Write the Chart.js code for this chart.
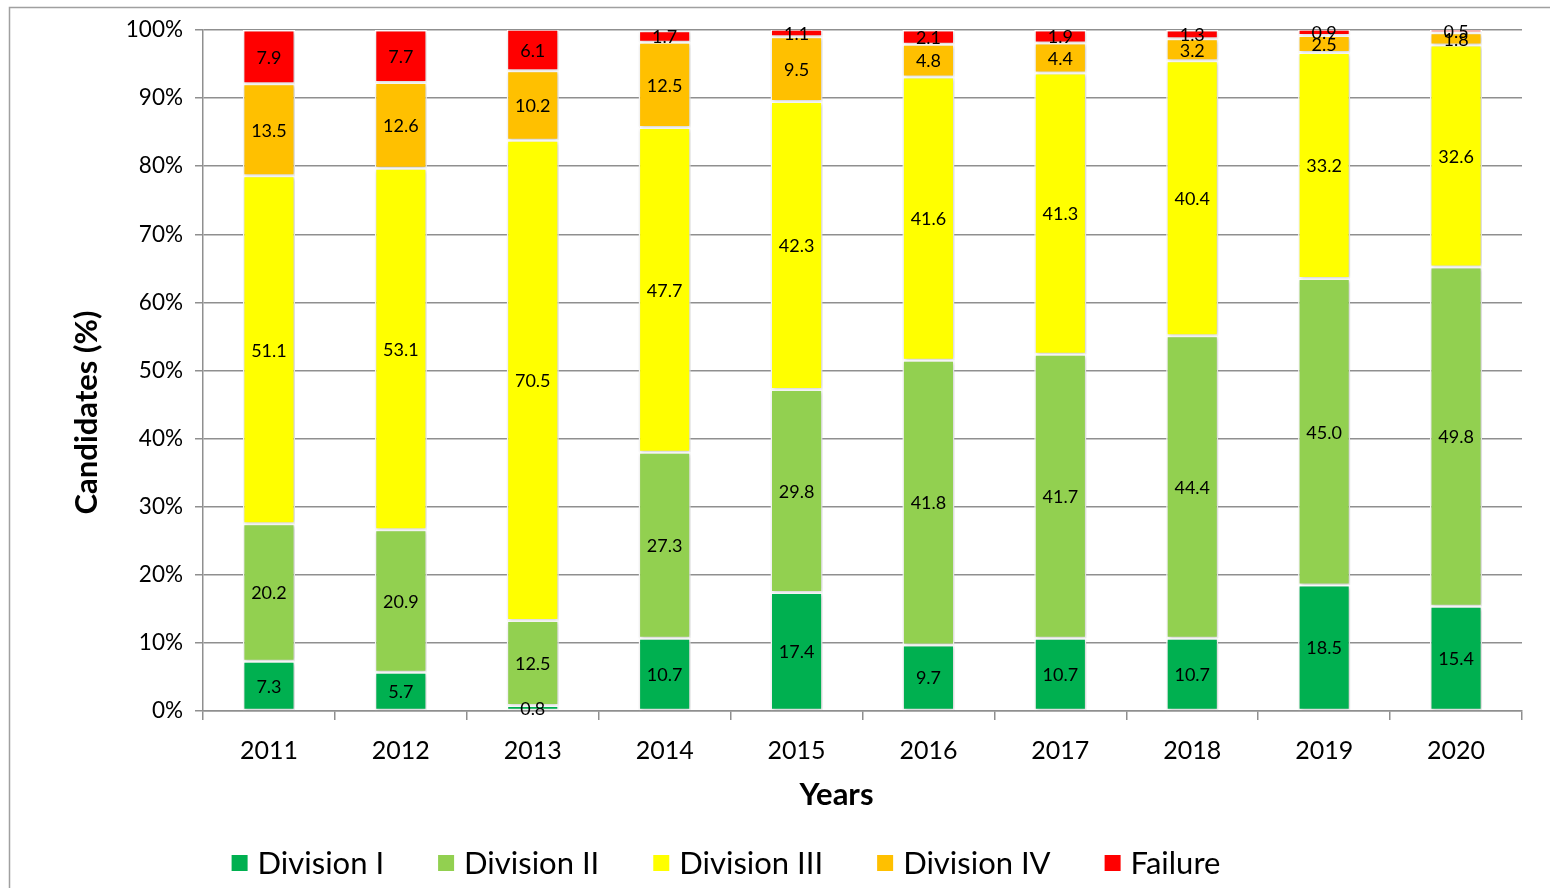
<!DOCTYPE html>
<html>
<head>
<meta charset="utf-8">
<script src="https://cdn.jsdelivr.net/npm/chart.js@4/dist/chart.umd.min.js"></script>
<style>
  body { margin: 0; background: #fff; }
  #wrap { width: 1550px; height: 888px; position: relative; }
</style>
</head>
<body>
<div id="wrap"><canvas id="resultsChart"></canvas></div>
<script>
// Exam results by year (percent of candidates)
const years = ['2011', '2012', '2013', '2014', '2015', '2016', '2017', '2018', '2019', '2020'];
const divisionI   = [7.3, 5.7, 0.8, 10.7, 17.4, 9.7, 10.7, 10.7, 18.5, 15.4];
const divisionII  = [20.2, 20.9, 12.5, 27.3, 29.8, 41.8, 41.7, 44.4, 45.0, 49.8];
const divisionIII = [51.1, 53.1, 70.5, 47.7, 42.3, 41.6, 41.3, 40.4, 33.2, 32.6];
const divisionIV  = [13.5, 12.6, 10.2, 12.5, 9.5, 4.8, 4.4, 3.2, 2.5, 1.8];
const failure     = [7.9, 7.7, 6.1, 1.7, 1.1, 2.1, 1.9, 1.3, 0.9, 0.5];
const yTicks = [0, 10, 20, 30, 40, 50, 60, 70, 80, 90, 100];

const FONT = 'Lato, "Open Sans", sans-serif';
const GRID = '#8f8f8f';

// outer frame of the chart object
const framePlugin = {
  id: 'frame',
  beforeDraw(chart) {
    const ctx = chart.ctx;
    ctx.save();
    ctx.strokeStyle = '#a0a0a0';
    ctx.lineWidth = 1.5;
    ctx.beginPath();
    ctx.moveTo(9.5, chart.height);
    ctx.lineTo(9.5, 7.5);
    ctx.lineTo(chart.width, 7.5);
    ctx.stroke();
    ctx.restore();
  }
};

// soft shadow under the bars
const shadowPlugin = {
  id: 'barShadow',
  beforeDatasetsDraw(chart) {
    const ctx = chart.ctx;
    ctx.save();
    ctx.shadowColor = 'rgba(0,0,0,0.22)';
    ctx.shadowBlur = 4;
    ctx.shadowOffsetX = 1;
    ctx.shadowOffsetY = 1;
  },
  afterDatasetsDraw(chart) {
    chart.ctx.restore();
  }
};

// value labels in the middle of each segment
const valueLabels = {
  id: 'valueLabels',
  afterDatasetsDraw(chart) {
    const ctx = chart.ctx;
    ctx.save();
    ctx.font = '18px ' + FONT;
    ctx.fillStyle = '#000';
    ctx.textAlign = 'center';
    ctx.textBaseline = 'middle';
    chart.data.datasets.forEach((ds, i) => {
      chart.getDatasetMeta(i).data.forEach((bar, j) => {
        const v = ds.data[j];
        ctx.fillText(v.toFixed(1), bar.x, (bar.y + bar.base) / 2 + 1);
      });
    });
    ctx.restore();
  }
};

// axis titles, placed a bit off-centre like the original
const axisTitles = {
  id: 'axisTitles',
  afterDraw(chart) {
    const ctx = chart.ctx;
    const area = chart.chartArea;
    ctx.save();
    ctx.font = 'bold 31px ' + FONT;
    ctx.fillStyle = '#000';
    ctx.textAlign = 'center';
    ctx.textBaseline = 'middle';
    ctx.fillText('Years', (area.left + area.right) / 2 - 26, 795);
    ctx.translate(87, (area.top + area.bottom) / 2 + 42);
    ctx.rotate(-Math.PI / 2);
    ctx.fillText('Candidates (%)', 0, 0);
    ctx.restore();
  }
};

// legend row under the axis title
const bottomLegend = {
  id: 'bottomLegend',
  afterDraw(chart) {
    const ctx = chart.ctx;
    const box = 16, gapBox = 10, gapItem = 54, cy = 863, cx = 726;
    ctx.save();
    ctx.font = '31px ' + FONT;
    ctx.textBaseline = 'middle';
    ctx.textAlign = 'left';
    const items = chart.data.datasets.map(ds => ({
      text: ds.label, color: ds.backgroundColor, w: ctx.measureText(ds.label).width
    }));
    let total = items.reduce((s, it) => s + box + gapBox + it.w, 0) + gapItem * (items.length - 1);
    let x = cx - total / 2;
    items.forEach(it => {
      ctx.fillStyle = it.color;
      ctx.fillRect(x, cy - box / 2, box, box);
      ctx.fillStyle = '#000';
      ctx.fillText(it.text, x + box + gapBox, cy + 1);
      x += box + gapBox + it.w + gapItem;
    });
    ctx.restore();
  }
};

const series = [
  { label: 'Division I', data: divisionI, color: '#00b050' },
  { label: 'Division II', data: divisionII, color: '#92d050' },
  { label: 'Division III', data: divisionIII, color: '#ffff00' },
  { label: 'Division IV', data: divisionIV, color: '#ffc000' },
  { label: 'Failure', data: failure, color: '#ff0000' }
];

new Chart(document.getElementById('resultsChart'), {
  type: 'bar',
  data: {
    labels: years,
    datasets: series.map(s => ({
      label: s.label,
      data: s.data,
      backgroundColor: s.color,
      borderColor: '#ffffff',
      borderWidth: 1.5,
      borderSkipped: false,
      categoryPercentage: 1,
      barPercentage: 0.395
    }))
  },
  options: {
    responsive: true,
    maintainAspectRatio: false,
    animation: false,
    layout: { padding: { left: 60, right: 28, top: 30, bottom: 76 } },
    plugins: {
      legend: { display: false },
      tooltip: { enabled: false }
    },
    scales: {
      x: {
        stacked: true,
        afterFit(scale) { scale.height = 101; },
        grid: { offset: true, drawOnChartArea: false, drawTicks: true, tickLength: 9, color: GRID, lineWidth: 1.5 },
        border: { display: true, color: GRID, width: 1.5 },
        ticks: { color: '#000', font: { family: FONT, size: 25 }, padding: 16 },
        title: { display: false }
      },
      y: {
        stacked: true,
        min: 0,
        max: 100,
        afterFit(scale) { scale.width = 143; },
        afterBuildTicks(scale) { scale.ticks = yTicks.map(v => ({ value: v })); },
        grid: { color: GRID, lineWidth: 1.5, tickLength: 8 },
        border: { display: true, color: GRID, width: 1.5 },
        ticks: { color: '#000', font: { family: FONT, size: 22.5 }, padding: 12, callback: v => v + '%' },
        title: { display: false }
      }
    }
  },
  plugins: [framePlugin, shadowPlugin, valueLabels, axisTitles, bottomLegend]
});
</script>
</body>
</html>
